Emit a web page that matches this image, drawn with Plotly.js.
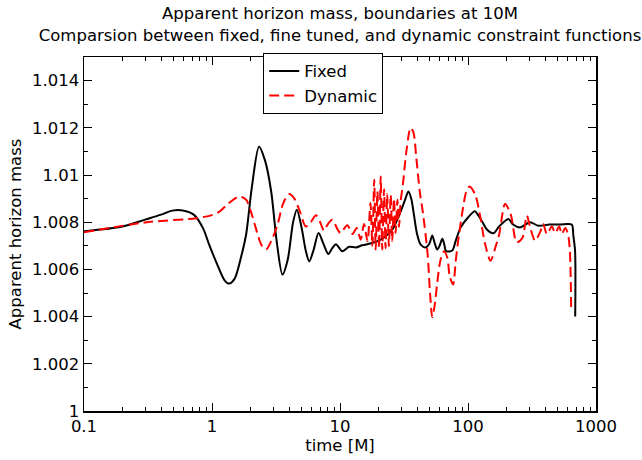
<!DOCTYPE html>
<html>
<head>
<meta charset="utf-8">
<script src="https://cdn.plot.ly/plotly-3.0.1.min.js"></script>
<style>html,body{margin:0;padding:0;background:#fff;}#chart{width:642px;height:460px;}</style>
</head>
<body>
<div id="chart"></div>
<script>
// Fixed constraint functions (black solid)
const fixedTime = [0.1, 0.2, 0.3, 0.4, 0.49, 0.59, 0.72, 0.85, 0.95, 1.1, 1.25, 1.36, 1.5, 1.7, 1.85, 2.05, 2.33, 2.6, 2.9, 3.2, 3.55, 3.9, 4.3, 4.6, 5.0, 5.4, 5.75, 6.2, 6.8, 7.4, 8.1, 8.7, 9.3, 10.4, 11.8, 13.3, 14.9, 17.9, 21.4, 25.6, 29.8, 32, 34.2, 36, 37.8, 40, 42.7, 46.7, 50, 52.6, 55, 57.5, 60, 63, 65, 67.6, 75.3, 80, 87.7, 100, 113, 120, 129, 140, 158, 175, 207, 225, 255, 305, 354, 430, 520, 646, 665, 686, 688];
const fixedMass = [1.00762, 1.00782, 1.00811, 1.00832, 1.00849, 1.0085, 1.00832, 1.00775, 1.00705, 1.0062, 1.00555, 1.0054, 1.0056, 1.0066, 1.0075, 1.0095, 1.0112, 1.0106, 1.0093, 1.0072, 1.00578, 1.0064, 1.008, 1.00853, 1.0078, 1.0068, 1.00634, 1.0068, 1.00754, 1.0071, 1.00665, 1.0069, 1.00707, 1.00677, 1.00696, 1.00693, 1.00702, 1.00712, 1.0073, 1.00768, 1.00846, 1.0089, 1.0093, 1.009, 1.00832, 1.0075, 1.00705, 1.00693, 1.0071, 1.00744, 1.0071, 1.00684, 1.007, 1.0073, 1.0071, 1.00677, 1.0068, 1.0072, 1.00778, 1.0082, 1.00846, 1.0083, 1.00803, 1.0077, 1.00753, 1.00782, 1.00814, 1.0079, 1.00778, 1.008, 1.00785, 1.0079, 1.0079, 1.0079, 1.00743, 1.0068, 1.0040];
// Dynamic constraint functions (red dashed)
const dynTime = [0.1, 0.3, 0.75, 1.0, 1.15, 1.35, 1.63, 1.85, 2.0, 2.2, 2.45, 2.65, 2.9, 3.25, 3.6, 4.0, 4.4, 4.9, 5.4, 5.9, 6.5, 7.0, 7.5, 8.0, 8.7, 9.6, 10.1, 11.4, 12.5, 13.5, 14.5, 15.4, 16.4, 17.3, 17.9, 18.5, 19.0, 19.6, 20.2, 20.8, 21.4, 22.1, 22.7, 23.4, 24.1, 24.9, 25.6, 26.4, 27.2, 28.1, 28.9, 29.8, 31, 33, 35.6, 37.5, 39.5, 42, 44.3, 48.4, 50.5, 52.6, 55, 57.5, 61, 65, 69, 72, 76.5, 80, 83, 90.5, 97, 103, 114, 124, 136, 150, 165, 175, 195, 216, 240, 266, 288, 307, 334, 368, 387, 413, 452, 480, 516, 540, 575, 605, 625, 640];
const dynMass = [1.00757, 1.00799, 1.00817, 1.0083, 1.00846, 1.0088, 1.00909, 1.00895, 1.0085, 1.00775, 1.007, 1.00684, 1.0072, 1.00789, 1.0088, 1.00919, 1.009, 1.0084, 1.00782, 1.008, 1.00829, 1.008, 1.00764, 1.0079, 1.0081, 1.00768, 1.00754, 1.00787, 1.0075, 1.00775, 1.00726, 1.00792, 1.00719, 1.00881, 1.007, 1.0098, 1.00684, 1.0093, 1.0069, 1.00994, 1.00684, 1.0094, 1.0069, 1.0092, 1.00698, 1.00916, 1.0072, 1.009, 1.00754, 1.00895, 1.0078, 1.0089, 1.0096, 1.011, 1.012, 1.0118, 1.0107, 1.0093, 1.00846, 1.00663, 1.005, 1.00398, 1.0045, 1.00543, 1.0064, 1.00677, 1.00648, 1.0057, 1.00536, 1.0063, 1.00705, 1.00846, 1.0093, 1.00951, 1.00916, 1.0083, 1.00708, 1.00637, 1.007, 1.00747, 1.00877, 1.00832, 1.00715, 1.00733, 1.00828, 1.00775, 1.00722, 1.00761, 1.00793, 1.0075, 1.00782, 1.00754, 1.00782, 1.0075, 1.00775, 1.00747, 1.0068, 1.0042];

const xTickVals = [0.1, 1, 10, 100, 1000];
const xTickText = ['0.1', '1', '10', '100', '1000'];
const yTickVals = [1, 1.002, 1.004, 1.006, 1.008, 1.01, 1.012, 1.014];
const yTickText = ['1', '1.002', '1.004', '1.006', '1.008', '1.01', '1.012', '1.014'];

const FONT = 'DejaVu Sans, Liberation Sans, Arial, sans-serif';

const traces = [
  {x: fixedTime, y: fixedMass, name: 'Fixed', type: 'scatter', mode: 'lines',
   line: {color: '#000000', width: 2, shape: 'spline', smoothing: 0.8}},
  {x: dynTime, y: dynMass, name: 'Dynamic', type: 'scatter', mode: 'lines',
   line: {color: '#ff0000', width: 2, dash: '10px,5px', shape: 'spline', smoothing: 0.8}}
];

const axisCommon = {
  showline: true, linecolor: '#000', linewidth: 1.5, mirror: 'allticks',
  ticks: 'inside', ticklen: 8, tickwidth: 1, tickcolor: '#000',
  showgrid: false, zeroline: false,
  tickfont: {family: FONT, size: 16.5, color: '#000'}
};

const layout = {
  width: 642, height: 460,
  paper_bgcolor: '#fff', plot_bgcolor: '#fff',
  margin: {l: 84, r: 46, t: 57, b: 49},
  font: {family: FONT, size: 16.5, color: '#000'},
  title: {
    text: 'Apparent horizon mass, boundaries at 10M<br>Comparsion between fixed, fine tuned, and dynamic constraint functions',
    font: {family: FONT, size: 16.5, color: '#000'},
    x: 0.5, xref: 'paper', xanchor: 'center',
    y: 0.958, yref: 'container', yanchor: 'top'
  },
  xaxis: Object.assign({}, axisCommon, {
    type: 'log', range: [-1, 3],
    tickmode: 'array', tickvals: xTickVals, ticktext: xTickText,
    minor: {ticks: 'inside', ticklen: 4, tickwidth: 1, tickcolor: '#000', dtick: 'D1', showgrid: false},
    title: {text: 'time [M]', font: {family: FONT, size: 16.5, color: '#000'}, standoff: 4}
  }),
  yaxis: Object.assign({}, axisCommon, {
    range: [1, 1.015],
    tickmode: 'array', tickvals: yTickVals, ticktext: yTickText,
    minor: {ticks: 'inside', ticklen: 4, tickwidth: 1, tickcolor: '#000', tick0: 1, dtick: 0.001, showgrid: false},
    title: {text: 'Apparent horizon mass', font: {family: FONT, size: 16.5, color: '#000'}, standoff: 6}
  }),
  showlegend: true,
  legend: {
    x: 0.35, xanchor: 'left', y: 1.012, yanchor: 'top',
    bgcolor: '#fff', bordercolor: '#000', borderwidth: 1,
    font: {family: FONT, size: 16.5, color: '#000'},
    tracegroupgap: 0, itemwidth: 30
  }
};

Plotly.newPlot('chart', traces, layout, {displayModeBar: false, staticPlot: true});
</script>
</body>
</html>
